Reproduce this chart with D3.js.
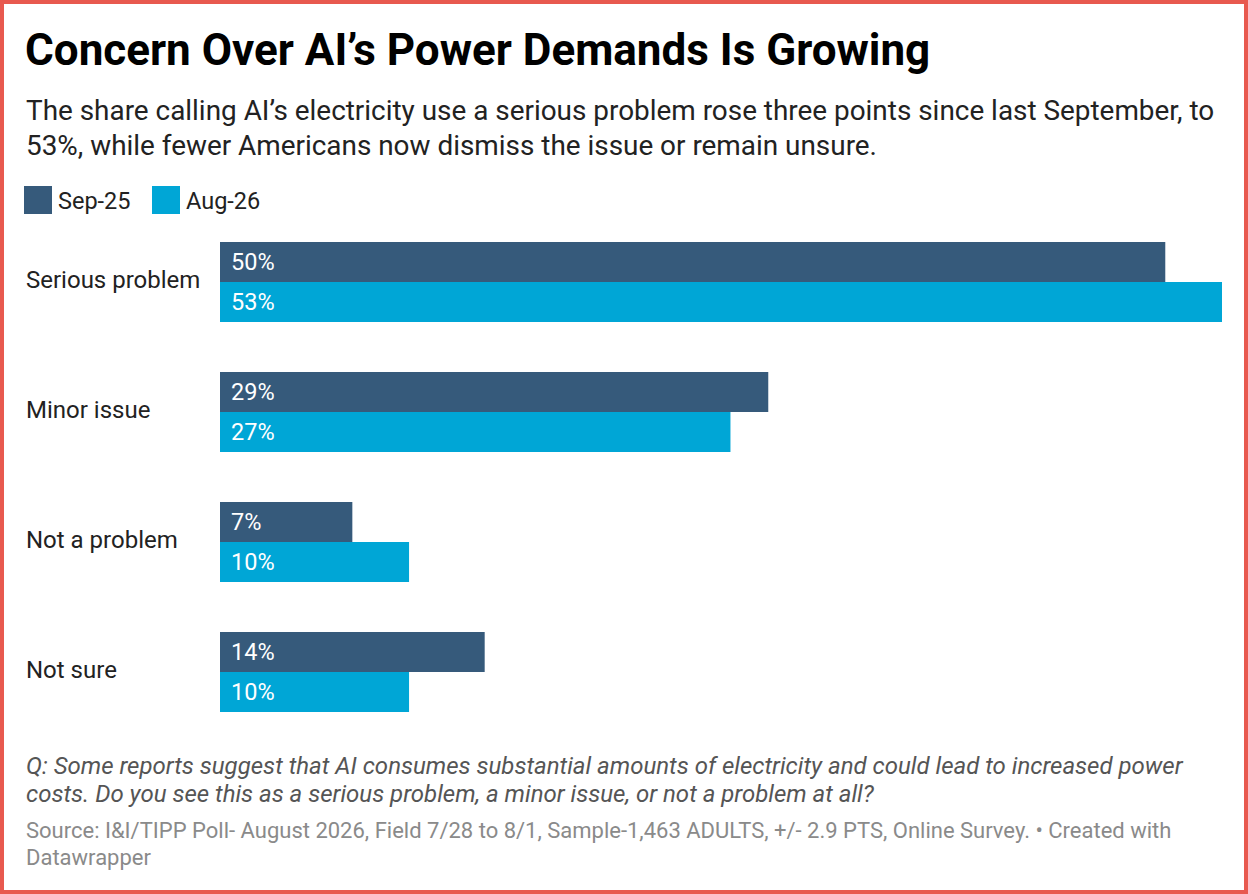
<!DOCTYPE html>
<html>
<head>
<meta charset="utf-8">
<script src="https://cdn.jsdelivr.net/npm/d3@7"></script>
<style>
  html, body { margin: 0; padding: 0; background: #fff; }
  svg { display: block; font-family: Roboto, "Noto Sans", sans-serif; }
</style>
</head>
<body>
<svg id="chart" width="1248" height="894"></svg>
<script>
// data
var categories = ['Serious problem', 'Minor issue', 'Not a problem', 'Not sure'];
var seriesNames = ['Sep-25', 'Aug-26'];
var sep25 = [50, 29, 7, 14];
var aug26 = [53, 27, 10, 10];
var colors = ['#365a7b', '#00a6d6'];

var W = 1248, H = 894;
var svg = d3.select('#chart');

// frame
svg.append('rect')
	.attr('x', 2).attr('y', 2)
	.attr('width', W - 4).attr('height', H - 4)
	.attr('fill', '#fff')
	.attr('stroke', '#e8594f')
	.attr('stroke-width', 4);

// header
svg.append('text')
	.attr('x', 25).attr('y', 65)
	.attr('font-size', 44).attr('font-weight', 700)
	.attr('fill', '#000')
	.text('Concern Over AI\u2019s Power Demands Is Growing');

var subtitle = [
	'The share calling AI\u2019s electricity use a serious problem rose three points since last September, to',
	'53%, while fewer Americans now dismiss the issue or remain unsure.'
];
svg.append('g').selectAll('text')
	.data(subtitle).join('text')
	.attr('x', 26).attr('y', function(d, i){ return 120 + i * 35; })
	.attr('font-size', 27.9).attr('fill', '#222')
	.text(function(d){ return d; });

// legend
var legend = svg.append('g').attr('transform', 'translate(24,186)');
var lx = [0, 128];
seriesNames.forEach(function(name, i){
	var g = legend.append('g').attr('transform', 'translate(' + lx[i] + ',0)');
	g.append('rect').attr('width', 28).attr('height', 28).attr('fill', colors[i]);
	g.append('text')
		.attr('x', 34).attr('y', 22.5)
		.attr('font-size', 23.5).attr('fill', '#222')
		.text(name);
});

// scales: 80 px per group, 50 px between groups
var x = d3.scaleLinear().domain([0, 53]).range([220, 1222]);
var y = d3.scaleBand().domain(categories).range([242, 712]).paddingInner(50 / 130).paddingOuter(0);
var ySub = d3.scaleBand().domain(seriesNames).range([0, y.bandwidth()]);

var rows = categories.map(function(c, i){
	return { cat: c, values: [sep25[i], aug26[i]] };
});

var group = svg.append('g').selectAll('g')
	.data(rows).join('g')
	.attr('transform', function(d){ return 'translate(0,' + y(d.cat) + ')'; });

group.append('text')
	.attr('x', 26)
	.attr('y', y.bandwidth() / 2 + 5.5)
	.attr('font-size', 24).attr('fill', '#222')
	.text(function(d){ return d.cat; });

var bars = group.selectAll('g.bar')
	.data(function(d){ return d.values.map(function(v, i){ return { v: v, s: seriesNames[i], i: i }; }); })
	.join('g').attr('class', 'bar');

bars.append('rect')
	.attr('x', x(0))
	.attr('y', function(d){ return ySub(d.s); })
	.attr('width', function(d){ return x(d.v) - x(0); })
	.attr('height', ySub.bandwidth())
	.attr('fill', function(d){ return colors[d.i]; });

bars.append('text')
	.attr('x', x(0) + 11)
	.attr('y', function(d){ return ySub(d.s) + ySub.bandwidth() / 2 + 8; })
	.attr('font-size', 23.5).attr('fill', '#fff')
	.text(function(d){ return d.v + '%'; });

// footer
var question = [
	'Q: Some reports suggest that AI consumes substantial amounts of electricity and could lead to increased power',
	'costs. Do you see this as a serious problem, a minor issue, or not a problem at all?'
];
svg.append('g').selectAll('text')
	.data(question).join('text')
	.attr('x', 26).attr('y', function(d, i){ return 774 + i * 28; })
	.attr('font-size', 24).attr('font-style', 'italic').attr('fill', '#555')
	.text(function(d){ return d; });

var source = [
	'Source: I&I/TIPP Poll- August 2026, Field 7/28 to 8/1, Sample-1,463 ADULTS, +/- 2.9 PTS, Online Survey. \u2022 Created with',
	'Datawrapper'
];
svg.append('g').selectAll('text')
	.data(source).join('text')
	.attr('x', 26).attr('y', function(d, i){ return 838 + i * 27; })
	.attr('font-size', 22).attr('fill', '#8a8a8a')
	.text(function(d){ return d; });
</script>
</body>
</html>
